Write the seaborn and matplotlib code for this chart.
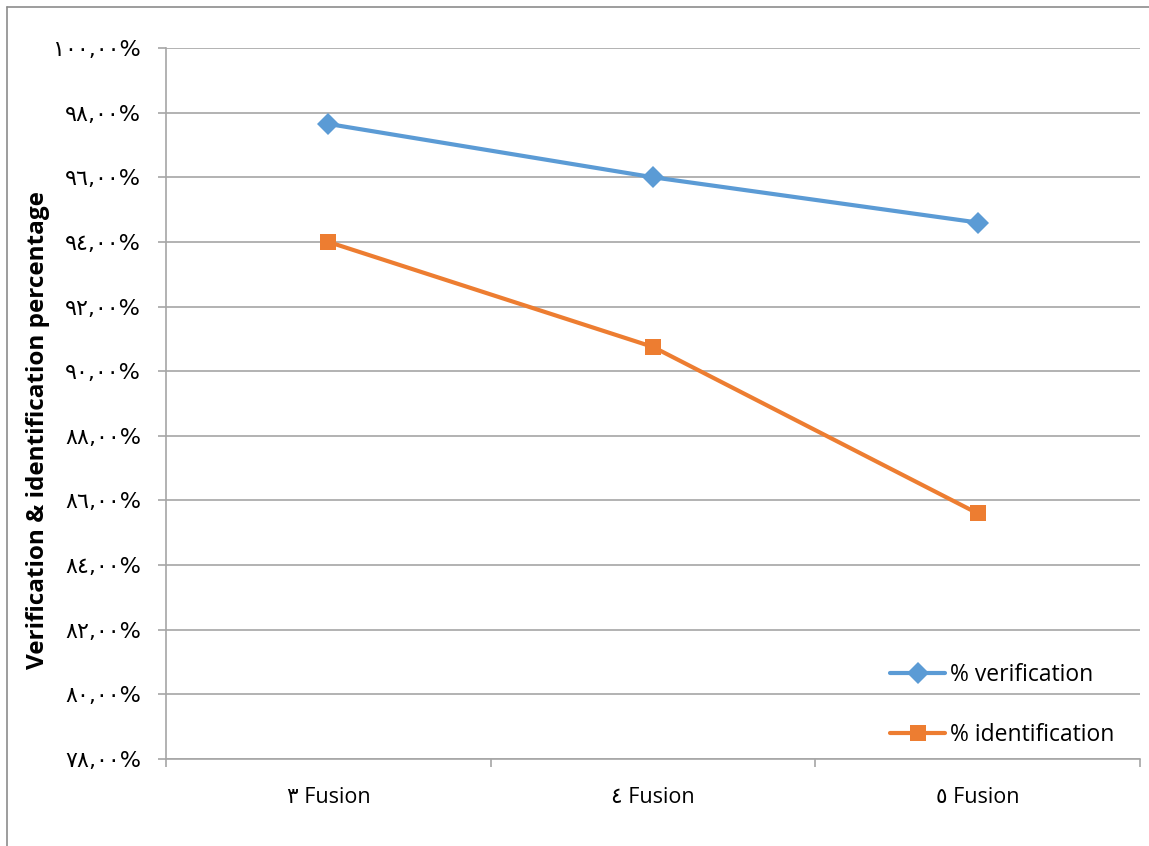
import matplotlib
matplotlib.use("Agg")
import matplotlib.pyplot as plt
import seaborn as sns
import pandas as pd
from matplotlib.lines import Line2D
from matplotlib.ticker import FixedLocator, FuncFormatter

# Data
categories = ["٣ Fusion", "٤ Fusion", "٥ Fusion"]
verification = [97.65, 96.0, 94.6]
identification = [94.0, 90.75, 85.6]
series_names = ["% verification", "% identification"]
y_ticks = [78, 80, 82, 84, 86, 88, 90, 92, 94, 96, 98, 100]

BLUE = "#5B9BD5"
ORANGE = "#ED7D31"
GRID = "#A6A6A6"

sns.set_theme(style="white")
plt.rcParams["font.family"] = ["Open Sans", "DejaVu Sans"]

df = pd.DataFrame({
    "category": categories * 2,
    "value": verification + identification,
    "series": [series_names[0]] * 3 + [series_names[1]] * 3,
})

fig = plt.figure(figsize=(11.49, 8.46), dpi=100)
ax = fig.add_axes([166 / 1149, 1 - 759 / 846, (1140 - 166) / 1149, (759 - 48) / 846])

sns.lineplot(data=df[df.series == series_names[0]], x="category", y="value",
             color=BLUE, lw=3, marker="D", markersize=11, markeredgewidth=0,
             ax=ax, legend=False, sort=False)
sns.lineplot(data=df[df.series == series_names[1]], x="category", y="value",
             color=ORANGE, lw=3, marker="s", markersize=12, markeredgewidth=0,
             ax=ax, legend=False, sort=False)

ax.set_xlim(-0.5, 2.5)
ax.set_ylim(78, 100)

# Arabic-Indic numerals for the percentage axis
_digits = str.maketrans("0123456789", "٠١٢٣٤٥٦٧٨٩")
def pct_label(v, pos=None):
    return (f"{v:.2f}".replace(".", ",")).translate(_digits) + "%"

ax.yaxis.set_major_locator(FixedLocator(y_ticks))
ax.yaxis.set_major_formatter(FuncFormatter(pct_label))
ax.yaxis.grid(True, color=GRID, lw=1.2)
ax.set_axisbelow(True)

for s in ["top", "right"]:
    ax.spines[s].set_visible(False)
for s in ["left", "bottom"]:
    ax.spines[s].set_color(GRID)
    ax.spines[s].set_linewidth(1.2)

ax.tick_params(axis="y", which="major", length=6, width=1.2, color=GRID, pad=12,
               labelsize=16, left=True)
for lbl in ax.get_yticklabels():
    lbl.set_family(["DejaVu Sans"])
    lbl.set_color("#000000")

ax.xaxis.set_minor_locator(FixedLocator([-0.5, 0.5, 1.5, 2.5]))
ax.tick_params(axis="x", which="minor", length=6, width=1.2, color=GRID, bottom=True)
ax.tick_params(axis="x", which="major", length=0, pad=20, labelsize=15.5, labelcolor="#000000")

ax.set_xlabel("")
ax.set_ylabel("Verification & identification percentage", fontsize=17.5, fontweight="bold",
              color="#000000")
ax.yaxis.set_label_coords(-0.119, 0.463)

handles = [
    Line2D([], [], color=BLUE, lw=3, marker="D", markersize=11, markeredgewidth=0),
    Line2D([], [], color=ORANGE, lw=3, marker="s", markersize=12, markeredgewidth=0),
]
leg = ax.legend(handles, series_names, loc="center left",
                bbox_to_anchor=((890 - 166) / 974, (759 - 705) / 711),
                frameon=False, fontsize=16.5, handlelength=2.4, handletextpad=0.2,
                labelspacing=1.55, borderpad=0, borderaxespad=0)
for t in leg.get_texts():
    t.set_color("#000000")

# chart frame edges (top and left)
fig.add_artist(Line2D([7 / 1149, 7 / 1149], [0, 1 - 7 / 846], transform=fig.transFigure,
                      color="#8C8C8C", lw=1.2))
fig.add_artist(Line2D([7 / 1149, 1], [1 - 7 / 846, 1 - 7 / 846], transform=fig.transFigure,
                      color="#8C8C8C", lw=1.2))

fig.savefig("out.png", dpi=100)
